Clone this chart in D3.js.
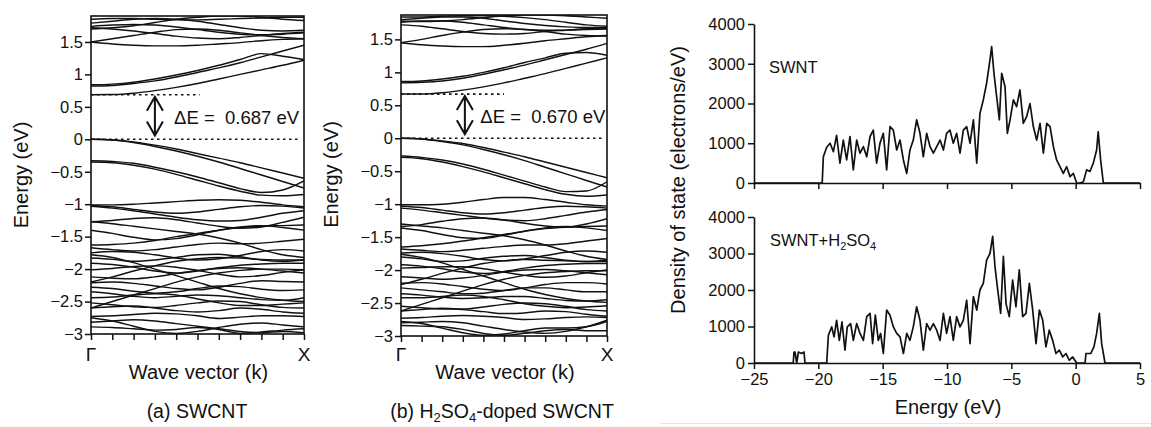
<!DOCTYPE html>
<html><head><meta charset="utf-8">
<script src="https://cdn.jsdelivr.net/npm/d3@7"></script>
<style>
body{margin:0;background:#fff}
svg{display:block}
text{font-family:"Liberation Sans",Arial,Helvetica,sans-serif;fill:#111}
</style>
</head><body>
<svg id="chart" width="1151" height="427"></svg>
<script>
// ---------------- DATA ----------------
const kPoints = [0,0.1,0.2,0.3,0.4,0.5,0.6,0.7,0.8,0.9,1.0];
const energyTicks = [-3,-2.5,-2,-1.5,-1,-0.5,0,0.5,1,1.5];
const gapA = 0.687;
const gapB = 0.670;
const gapLabelA = "\u0394E =  0.687 eV";
const gapLabelB = "\u0394E =  0.670 eV";

// band energies (eV) at kPoints, panel (a) SWCNT
const bandsA = [
  [0.687,0.69,0.71,0.75,0.80,0.86,0.93,1.00,1.07,1.14,1.22],
  [0.82,0.83,0.86,0.90,0.96,1.03,1.10,1.18,1.27,1.36,1.45],
  [0.84,0.85,0.88,0.93,0.99,1.06,1.14,1.23,1.32,1.28,1.23],
  [1.50,1.47,1.45,1.44,1.44,1.45,1.47,1.49,1.52,1.54,1.55],
  [1.50,1.55,1.60,1.65,1.69,1.70,1.68,1.64,1.60,1.57,1.55],
  [1.72,1.70,1.67,1.63,1.59,1.56,1.55,1.57,1.60,1.63,1.65],
  [1.74,1.76,1.77,1.76,1.73,1.69,1.65,1.62,1.61,1.62,1.64],
  [1.79,1.82,1.85,1.86,1.85,1.82,1.77,1.72,1.68,1.67,1.68],
  [1.85,1.86,1.86,1.85,1.84,1.84,1.85,1.86,1.87,1.88,1.88],
  [1.70,1.72,1.75,1.80,1.85,1.88,1.90,1.90,1.88,1.85,1.83],
  [0,-0.01,-0.04,-0.09,-0.15,-0.22,-0.29,-0.36,-0.44,-0.52,-0.60],
  [0,-0.01,-0.05,-0.11,-0.18,-0.26,-0.35,-0.45,-0.55,-0.65,-0.75],
  [-0.33,-0.34,-0.37,-0.43,-0.50,-0.58,-0.67,-0.76,-0.82,-0.78,-0.64],
  [-0.35,-0.36,-0.40,-0.46,-0.54,-0.63,-0.72,-0.80,-0.86,-0.87,-0.85],
  [-1.01,-1.01,-1.00,-0.98,-0.96,-0.94,-0.93,-0.94,-0.97,-1.01,-1.04],
  [-1.02,-1.04,-1.08,-1.12,-1.14,-1.12,-1.08,-1.04,-1.02,-1.03,-1.06],
  [-1.03,-1.06,-1.10,-1.15,-1.20,-1.24,-1.26,-1.25,-1.20,-1.14,-1.10],
  [-1.27,-1.25,-1.22,-1.21,-1.24,-1.29,-1.34,-1.37,-1.35,-1.28,-1.20],
  [-1.40,-1.45,-1.51,-1.55,-1.53,-1.47,-1.40,-1.35,-1.33,-1.36,-1.40],
  [-1.63,-1.62,-1.60,-1.56,-1.50,-1.45,-1.40,-1.36,-1.34,-1.33,-1.32],
  [-1.67,-1.70,-1.72,-1.70,-1.66,-1.62,-1.60,-1.61,-1.60,-1.57,-1.54],
  [-1.75,-1.73,-1.74,-1.78,-1.83,-1.86,-1.84,-1.79,-1.73,-1.70,-1.72],
  [-1.83,-1.85,-1.88,-1.86,-1.82,-1.78,-1.77,-1.81,-1.86,-1.88,-1.86],
  [-1.91,-1.93,-1.97,-2.03,-2.06,-2.03,-1.98,-1.94,-1.92,-1.91,-1.91],
  [-2.01,-1.99,-1.96,-1.95,-1.97,-2.02,-2.08,-2.12,-2.10,-2.05,-2.01],
  [-2.12,-2.14,-2.15,-2.12,-2.07,-2.02,-1.99,-1.98,-2.00,-2.03,-2.06],
  [-2.21,-2.20,-2.22,-2.26,-2.30,-2.32,-2.28,-2.22,-2.18,-2.19,-2.20],
  [-2.28,-2.30,-2.34,-2.37,-2.35,-2.30,-2.26,-2.27,-2.31,-2.33,-2.32],
  [-2.35,-2.38,-2.42,-2.44,-2.42,-2.40,-2.41,-2.44,-2.47,-2.48,-2.44],
  [-2.44,-2.43,-2.40,-2.38,-2.40,-2.46,-2.52,-2.56,-2.56,-2.54,-2.52],
  [-2.52,-2.55,-2.58,-2.59,-2.56,-2.52,-2.49,-2.50,-2.55,-2.59,-2.60],
  [-2.60,-2.58,-2.57,-2.60,-2.64,-2.66,-2.64,-2.60,-2.62,-2.66,-2.68],
  [-2.73,-2.72,-2.70,-2.68,-2.69,-2.72,-2.76,-2.74,-2.72,-2.72,-2.73],
  [-2.75,-2.80,-2.88,-2.96,-2.99,-2.96,-2.90,-2.85,-2.83,-2.86,-2.89],
  [-2.89,-2.90,-2.92,-2.94,-2.93,-2.90,-2.93,-2.99,-2.97,-2.94,-2.92],
  [-2.82,-2.80,-2.78,-2.80,-2.84,-2.88,-2.92,-2.96,-2.98,-2.96,-2.98],
  [-1.78,-1.82,-1.90,-2.00,-2.10,-2.20,-2.30,-2.38,-2.44,-2.48,-2.50],
  [-2.60,-2.50,-2.40,-2.30,-2.20,-2.12,-2.06,-2.02,-2.00,-2.00,-2.01],
  [-1.27,-1.30,-1.34,-1.38,-1.42,-1.46,-1.52,-1.60,-1.70,-1.78,-1.82],
  [-2.20,-2.12,-2.03,-1.95,-1.88,-1.84,-1.82,-1.83,-1.85,-1.86,-1.86]
];

// band energies (eV) at kPoints, panel (b) H2SO4-doped SWCNT
const bandsB = [
  [0.670,0.67,0.69,0.73,0.78,0.84,0.91,0.98,1.06,1.14,1.22],
  [0.84,0.85,0.87,0.91,0.97,1.04,1.11,1.19,1.27,1.35,1.44],
  [0.86,0.87,0.90,0.94,1.00,1.07,1.15,1.22,1.29,1.30,1.26],
  [1.45,1.42,1.40,1.39,1.39,1.41,1.44,1.48,1.51,1.54,1.56],
  [1.45,1.50,1.56,1.61,1.65,1.66,1.65,1.62,1.58,1.56,1.55],
  [1.72,1.70,1.66,1.62,1.59,1.58,1.59,1.62,1.64,1.66,1.66],
  [1.76,1.78,1.78,1.76,1.72,1.68,1.65,1.64,1.64,1.65,1.66],
  [1.80,1.82,1.84,1.84,1.82,1.78,1.74,1.71,1.69,1.68,1.68],
  [1.84,1.84,1.85,1.86,1.86,1.85,1.83,1.80,1.76,1.72,1.70],
  [1.78,1.77,1.78,1.80,1.83,1.86,1.87,1.87,1.86,1.84,1.82],
  [0,-0.01,-0.04,-0.08,-0.14,-0.21,-0.28,-0.36,-0.44,-0.52,-0.60],
  [0,-0.01,-0.05,-0.10,-0.17,-0.25,-0.34,-0.44,-0.54,-0.64,-0.74],
  [-0.27,-0.29,-0.33,-0.39,-0.47,-0.56,-0.65,-0.74,-0.81,-0.80,-0.66],
  [-0.29,-0.31,-0.36,-0.43,-0.51,-0.60,-0.69,-0.78,-0.85,-0.88,-0.86],
  [-1.01,-1.01,-1.00,-0.97,-0.93,-0.90,-0.90,-0.93,-0.97,-1.01,-1.03],
  [-1.03,-1.05,-1.09,-1.13,-1.15,-1.13,-1.09,-1.05,-1.03,-1.04,-1.06],
  [-1.06,-1.09,-1.13,-1.17,-1.21,-1.24,-1.25,-1.22,-1.17,-1.12,-1.08],
  [-1.34,-1.31,-1.26,-1.22,-1.21,-1.24,-1.29,-1.33,-1.35,-1.30,-1.22],
  [-1.36,-1.40,-1.46,-1.51,-1.52,-1.47,-1.41,-1.36,-1.34,-1.36,-1.40],
  [-1.65,-1.63,-1.60,-1.56,-1.51,-1.46,-1.41,-1.37,-1.35,-1.34,-1.33],
  [-1.68,-1.70,-1.72,-1.70,-1.67,-1.64,-1.62,-1.62,-1.60,-1.56,-1.52],
  [-1.74,-1.73,-1.75,-1.79,-1.84,-1.86,-1.83,-1.78,-1.73,-1.71,-1.73],
  [-1.80,-1.83,-1.87,-1.86,-1.82,-1.79,-1.78,-1.81,-1.85,-1.87,-1.85],
  [-1.92,-1.94,-1.98,-2.03,-2.05,-2.02,-1.97,-1.93,-1.91,-1.90,-1.90],
  [-1.97,-1.96,-1.95,-1.95,-1.98,-2.03,-2.08,-2.11,-2.09,-2.04,-2.00],
  [-2.10,-2.12,-2.14,-2.12,-2.08,-2.03,-2.00,-1.99,-2.01,-2.04,-2.07],
  [-2.20,-2.19,-2.21,-2.25,-2.29,-2.31,-2.27,-2.22,-2.19,-2.19,-2.21],
  [-2.27,-2.30,-2.33,-2.36,-2.35,-2.31,-2.27,-2.27,-2.30,-2.33,-2.33],
  [-2.36,-2.38,-2.41,-2.43,-2.42,-2.40,-2.40,-2.43,-2.46,-2.47,-2.45],
  [-2.42,-2.42,-2.40,-2.38,-2.40,-2.45,-2.51,-2.55,-2.57,-2.56,-2.54],
  [-2.55,-2.57,-2.59,-2.59,-2.56,-2.52,-2.50,-2.51,-2.55,-2.60,-2.62],
  [-2.62,-2.60,-2.58,-2.60,-2.63,-2.66,-2.65,-2.62,-2.63,-2.67,-2.70],
  [-2.73,-2.72,-2.70,-2.69,-2.70,-2.72,-2.75,-2.74,-2.72,-2.71,-2.72],
  [-2.78,-2.81,-2.88,-2.95,-2.99,-2.97,-2.92,-2.88,-2.88,-2.86,-2.78],
  [-2.84,-2.85,-2.86,-2.90,-2.96,-2.99,-2.96,-2.92,-2.90,-2.92,-2.92],
  [-2.80,-2.79,-2.78,-2.80,-2.85,-2.90,-2.94,-2.96,-2.93,-2.86,-2.76],
  [-1.76,-1.81,-1.89,-1.99,-2.09,-2.19,-2.29,-2.37,-2.43,-2.47,-2.49],
  [-2.62,-2.52,-2.42,-2.32,-2.22,-2.14,-2.08,-2.04,-2.02,-2.01,-2.01],
  [-1.30,-1.33,-1.36,-1.40,-1.44,-1.48,-1.54,-1.62,-1.71,-1.79,-1.84],
  [-2.22,-2.14,-2.05,-1.97,-1.90,-1.86,-1.84,-1.85,-1.86,-1.87,-1.87]
];

// DOS [energy eV, electrons/eV]
const dosSWNT = [
  [-25,0],[-19.7,0],[-19.61,660],[-19.35,900],[-19.09,1000],[-18.83,790],[-18.58,1200],[-18.32,500],
  [-18.06,1080],[-17.80,580],[-17.54,1170],[-17.28,330],[-17.02,1080],[-16.76,750],[-16.50,915],
  [-16.24,660],[-15.98,1170],[-15.73,1330],[-15.47,500],[-15.21,1000],[-14.95,1250],[-14.69,330],
  [-14.43,1420],[-14.17,1330],[-13.91,830],[-13.65,1080],[-13.39,580],[-13.13,240],[-12.88,830],
  [-12.62,1080],[-12.36,1590],[-12.10,1250],[-11.84,660],[-11.58,1250],[-11.32,915],[-11.06,750],
  [-10.80,915],[-10.54,1080],[-10.28,830],[-10.03,1250],[-9.77,1330],[-9.51,1000],[-9.25,1250],
  [-8.99,750],[-8.73,1330],[-8.47,1420],[-8.21,1000],[-7.95,1590],[-7.69,500],[-7.44,1750],
  [-7.18,2090],[-6.92,2510],[-6.66,3100],[-6.53,3430],[-6.35,2760],[-6.14,2170],[-5.93,1590],
  [-5.75,2760],[-5.49,2420],[-5.31,1250],[-5.10,1590],[-4.84,2090],[-4.59,1920],[-4.33,2340],
  [-4.07,1500],[-3.81,1670],[-3.55,2000],[-3.29,1420],[-3.03,1080],[-2.77,1500],[-2.51,750],
  [-2.25,1500],[-1.99,1420],[-1.73,915],[-1.48,580],[-1.22,410],[-0.96,240],[-0.70,410],
  [-0.44,160],[-0.18,240],[0.08,0],[0.34,0],[0.60,30],[0.85,330],[1.11,290],[1.37,500],
  [1.63,830],[1.75,1290],[1.94,580],[2.15,0],[5,0]
];
const dosDoped = [
  [-25,0],[-21.95,0],[-21.89,300],[-21.81,300],[-21.68,0],[-21.55,300],[-21.30,260],[-21.11,300],
  [-21.04,0],[-19.35,0],[-19.22,760],[-18.96,990],[-18.78,715],[-18.58,1170],[-18.37,620],
  [-18.16,1130],[-17.93,350],[-17.75,990],[-17.49,1080],[-17.28,620],[-17.02,1080],[-16.76,810],
  [-16.50,620],[-16.24,1270],[-15.98,1360],[-15.78,530],[-15.57,1310],[-15.34,620],[-15.16,810],
  [-14.95,260],[-14.69,1450],[-14.43,1310],[-14.17,990],[-13.91,810],[-13.65,715],[-13.39,260],
  [-13.13,810],[-12.88,620],[-12.62,990],[-12.36,1540],[-12.10,1170],[-11.84,350],[-11.58,1080],
  [-11.32,900],[-11.06,1080],[-10.80,900],[-10.54,620],[-10.28,1360],[-10.03,810],[-9.77,1270],
  [-9.51,620],[-9.25,1270],[-8.99,990],[-8.73,1170],[-8.47,1720],[-8.21,530],[-7.95,1820],
  [-7.69,1450],[-7.44,2000],[-7.18,2180],[-6.92,2820],[-6.66,3000],[-6.45,3470],[-6.27,2640],
  [-6.09,2090],[-5.83,1360],[-5.62,2920],[-5.41,1620],[-5.16,1270],[-4.90,2270],[-4.64,1540],
  [-4.38,2550],[-4.12,1270],[-3.86,1360],[-3.60,2180],[-3.34,1450],[-3.08,530],[-2.82,1450],
  [-2.56,1170],[-2.31,440],[-2.05,900],[-1.79,620],[-1.53,260],[-1.27,350],[-1.01,165],
  [-0.75,260],[-0.49,75],[-0.23,165],[0.08,0],[0.73,0],[0.80,260],[0.91,260],[1.17,260],
  [1.42,440],[1.63,810],[1.84,1360],[2.02,530],[2.28,0],[5,0]
];
const dosYTicks = [0,1000,2000,3000,4000];
const dosXTicks = [-25,-20,-15,-10,-5,0,5];

// ---------------- DRAW ----------------
const svg = d3.select("#chart");
const INK = "#111";
const minus = v => (v < 0 ? "\u2212" : "") + Math.abs(v);

function bandPanel(cfg) {
  const x = d3.scaleLinear().domain([0,1]).range([cfg.left, cfg.right]);
  const y = d3.scaleLinear().domain([-3, cfg.top_e]).range([cfg.bottom, cfg.top]);
  const g = svg.append("g");
  const clipId = "clip" + cfg.id;
  svg.append("clipPath").attr("id", clipId).append("rect")
    .attr("x", cfg.left).attr("y", cfg.top).attr("width", cfg.right - cfg.left).attr("height", cfg.bottom - cfg.top);

  const line = d3.line().x((d,i) => x(kPoints[i])).y(d => y(d)).curve(d3.curveMonotoneX);
  g.append("g").attr("clip-path", `url(#${clipId})`)
    .selectAll("path").data(cfg.bands).join("path")
    .attr("d", line).attr("fill","none").attr("stroke", INK).attr("stroke-width", 1.45);

  // dotted reference lines
  g.append("line").attr("x1", x(0)).attr("x2", x(0.98)).attr("y1", y(0)).attr("y2", y(0))
    .attr("stroke", INK).attr("stroke-width", 1.6).attr("stroke-dasharray", "2.5,3.5");
  g.append("line").attr("x1", x(0)).attr("x2", x(cfg.dotEnd)).attr("y1", y(cfg.gap)).attr("y2", y(cfg.gap))
    .attr("stroke", INK).attr("stroke-width", 1.6).attr("stroke-dasharray", "2.5,3.5");

  // double arrow
  const ax = x(cfg.arrowK), y1 = y(cfg.gap - 0.03), y2 = y(0.06);
  g.append("path")
    .attr("d", `M${ax},${y1}L${ax},${y2}M${ax-8},${y1+14}L${ax},${y1}L${ax+8},${y1+14}M${ax-8},${y2-14}L${ax},${y2}L${ax+8},${y2-14}`)
    .attr("fill","none").attr("stroke", INK).attr("stroke-width", 2);
  g.append("text").attr("x", x(cfg.labelK)).attr("y", y(cfg.gap/2) + 7)
    .attr("font-size", 18.5).style("white-space","pre").text(cfg.gapLabel);

  // frame
  g.append("rect").attr("x", cfg.left).attr("y", cfg.top).attr("width", cfg.right - cfg.left)
    .attr("height", cfg.bottom - cfg.top).attr("fill","none").attr("stroke", INK).attr("stroke-width", 1.6);

  // axes
  const ya = g.append("g").attr("transform", `translate(${cfg.left},0)`)
    .call(d3.axisLeft(y).tickValues(energyTicks).tickFormat(minus).tickSize(6).tickSizeOuter(0));
  const xa = g.append("g").attr("transform", `translate(0,${cfg.bottom})`)
    .call(d3.axisBottom(x).tickValues(kPoints).tickFormat("").tickSize(6).tickSizeOuter(0));
  [ya, xa].forEach(a => {
    a.select(".domain").remove();
    a.selectAll("line").attr("stroke", INK).attr("stroke-width", 1.5);
    a.selectAll("text").attr("fill", INK).attr("font-size", 16.5)
      .attr("font-family", "'Liberation Sans', Arial, sans-serif");
  });
  ya.selectAll("text").attr("x", -8);

  // labels
  g.append("text").attr("x", x(0)).attr("y", 361).attr("text-anchor","middle")
    .attr("font-family","'Liberation Serif', serif").attr("font-size", 19).text("\u0393");
  g.append("text").attr("x", x(1)).attr("y", 361).attr("text-anchor","middle")
    .attr("font-family","'Liberation Serif', serif").attr("font-size", 19).text("X");
  g.append("text").attr("x", (cfg.left + cfg.right)/2 + 1).attr("y", 379).attr("text-anchor","middle")
    .attr("font-size", 20).text("Wave vector (k)");
  g.append("text").attr("transform", `translate(${cfg.ylabX},${y(-0.55)}) rotate(-90)`)
    .attr("text-anchor","middle").attr("font-size", 20).text("Energy (eV)");
  return g;
}

bandPanel({id:"a", left:91, right:304, top:16, bottom:334, top_e:1.9, bands:bandsA, gap:gapA,
  gapLabel:gapLabelA, dotEnd:0.51, arrowK:0.30, labelK:0.39, ylabX:28});
bandPanel({id:"b", left:401, right:607, top:15, bottom:336, top_e:1.87, bands:bandsB, gap:gapB,
  gapLabel:gapLabelB, dotEnd:0.50, arrowK:0.31, labelK:0.385, ylabX:338});

// captions
svg.append("text").attr("x", 197).attr("y", 418).attr("text-anchor","middle").attr("font-size", 19.5)
  .text("(a) SWCNT");
const capB = svg.append("text").attr("x", 502).attr("y", 418).attr("text-anchor","middle").attr("font-size", 19.5);
capB.append("tspan").text("(b) H");
capB.append("tspan").attr("font-size", 13).attr("dy", 4).text("2");
capB.append("tspan").attr("dy", -4).text("SO");
capB.append("tspan").attr("font-size", 13).attr("dy", 4).text("4");
capB.append("tspan").attr("dy", -4).text("-doped SWCNT");

// DOS panels
const xD = d3.scaleLinear().domain([-25,5]).range([754,1140]);
function dosPanel(data, y0, y1, showLabels) {
  const y = d3.scaleLinear().domain([0,4000]).range([y0, y1]);
  const g = svg.append("g");
  const line = d3.line().x(d => xD(d[0])).y(d => y(d[1]));
  g.append("path").datum(data).attr("d", line).attr("fill","none")
    .attr("stroke", INK).attr("stroke-width", 1.7).attr("stroke-linejoin","round");
  const ya = g.append("g").attr("transform", `translate(${xD(-25)},0)`)
    .call(d3.axisLeft(y).tickValues(dosYTicks).tickSize(6).tickSizeOuter(0).tickFormat(d3.format("d")));
  const xa = g.append("g").attr("transform", `translate(0,${y0})`)
    .call(d3.axisBottom(xD).tickValues(dosXTicks).tickSize(6).tickSizeOuter(0)
      .tickFormat(showLabels ? minus : ""));
  [ya, xa].forEach(a => {
    a.select(".domain").attr("stroke", INK).attr("stroke-width", 1.6);
    a.selectAll("line").attr("stroke", INK).attr("stroke-width", 1.5);
    a.selectAll("text").attr("fill", INK).attr("font-size", 16.5)
      .attr("font-family", "'Liberation Sans', Arial, sans-serif");
  });
  ya.selectAll("text").attr("x", -9);
  xa.selectAll("text").attr("y", 10);
  return g;
}
dosPanel(dosSWNT, 183, 24, false);
dosPanel(dosDoped, 363, 217, true);

svg.append("text").attr("x", 769).attr("y", 73).attr("font-size", 16.5).text("SWNT");
const lab2 = svg.append("text").attr("x", 770).attr("y", 246).attr("font-size", 16.5);
lab2.append("tspan").text("SWNT+H");
lab2.append("tspan").attr("font-size", 11).attr("dy", 4).text("2");
lab2.append("tspan").attr("dy", -4).text("SO");
lab2.append("tspan").attr("font-size", 11).attr("dy", 4).text("4");

svg.append("text").attr("x", 948).attr("y", 414).attr("text-anchor","middle").attr("font-size", 20)
  .text("Energy (eV)");
svg.append("text").attr("transform", "translate(685,180) rotate(-90)").attr("text-anchor","middle")
  .attr("font-size", 20).text("Density of state (electrons/eV)");

svg.append("line").attr("x1", 660).attr("x2", 1151).attr("y1", 423.5).attr("y2", 423.5)
  .attr("stroke", "#e4e4e4").attr("stroke-width", 1);
</script>
</body></html>
